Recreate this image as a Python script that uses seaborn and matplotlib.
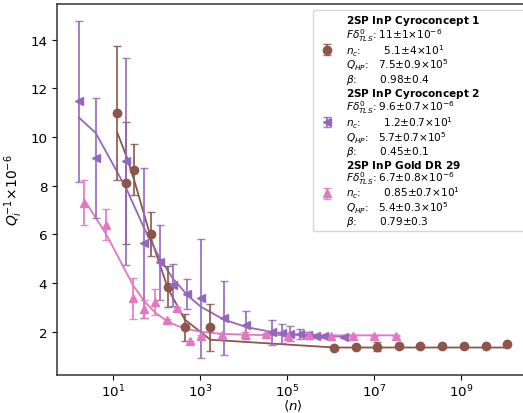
import numpy as np
import pandas as pd
import matplotlib
matplotlib.use("Agg")
import matplotlib.pyplot as plt
import seaborn as sns

# ---- data ----
# 2SP InP Cyroconcept 1 (brown)
n_c1 = [12.8, 20.7, 31.6, 77.6, 186, 452, 1760, 1.23e6, 3.85e6, 1.19e7, 3.76e7,
        1.17e8, 3.72e8, 1.19e9, 3.76e9, 1.17e10]
q_c1 = [10.99, 8.11, 8.66, 6.01, 3.85, 2.18, 2.18, 1.32, 1.36, 1.38, 1.41,
        1.43, 1.43, 1.40, 1.41, 1.48]
e_c1 = [2.74, 2.5, 1.05, 0.9, 0.85, 0.56, 0.97, 0.03, 0.05, 0.18, 0.1,
        0.04, 0.04, 0.04, 0.04, 0.04]
fit_c1 = [10.17, 9.21, 8.19, 5.78, 3.77, 2.50, 1.67, 1.35, 1.35, 1.35, 1.35,
          1.35, 1.35, 1.35, 1.35, 1.35]

# 2SP InP Cyroconcept 2 (purple)
n_c2 = [1.65, 4.07, 20.7, 52.5, 120, 243, 521, 1050, 3550, 1.17e4, 4.47e4,
        7.59e4, 1.17e5, 2.0e5, 3.02e5, 4.79e5, 7.08e5, 2.04e6]
q_c2 = [11.47, 9.14, 9.0, 5.63, 4.85, 3.92, 3.55, 3.37, 2.55, 2.27, 1.97,
        1.94, 1.92, 1.90, 1.86, 1.83, 1.81, 1.77]
e_c2 = [3.3, 2.48, 4.27, 3.08, 1.53, 0.85, 0.63, 2.45, 1.52, 0.57, 0.53,
        0.39, 0.3, 0.2, 0.14, 0.09, 0.05, 0.03]
fit_c2 = [10.81, 10.17, 7.87, 6.26, 5.02, 4.18, 3.50, 3.03, 2.50, 2.19, 1.99,
          1.94, 1.91, 1.88, 1.85, 1.84, 1.82, 1.80]

# 2SP InP Gold DR 29 (pink)
n_g = [2.19, 7.16, 29.3, 52.5, 92.5, 181, 307, 611, 1050, 3310, 1.07e4,
       3.24e4, 1.05e5, 3.24e5, 1.02e6, 3.24e6, 1.02e7, 3.24e7]
q_g = [7.31, 6.40, 3.37, 2.93, 3.23, 2.48, 2.96, 1.60, 1.83, 1.86, 1.92,
       1.90, 1.84, 1.86, 1.83, 1.84, 1.84, 1.84]
e_g = [0.91, 0.65, 0.84, 0.36, 0.53, 0.05, 0.05, 0.03, 0.05, 0.06, 0.05,
       0.04, 0.03, 0.03, 0.03, 0.03, 0.03, 0.03]
fit_g = [7.44, 5.99, 3.91, 3.26, 2.80, 2.43, 2.24, 2.08, 2.00, 1.91, 1.88,
         1.86, 1.86, 1.85, 1.85, 1.85, 1.85, 1.85]

x_ticks = [1e1, 1e3, 1e5, 1e7, 1e9]
y_ticks = [2, 4, 6, 8, 10, 12, 14]

labels = [
    "$\\bf{2SP\\ InP\\ Cyroconcept\\ 1}$\n"
    "$F\\delta^0_{TLS}$: 11±1×10$^{-6}$\n"
    "$n_c$:       5.1±4×10$^{1}$\n"
    "$Q_{HP}$:   7.5±0.9×10$^{5}$\n"
    "$\\beta$:       0.98±0.4",
    "$\\bf{2SP\\ InP\\ Cyroconcept\\ 2}$\n"
    "$F\\delta^0_{TLS}$: 9.6±0.7×10$^{-6}$\n"
    "$n_c$:       1.2±0.7×10$^{1}$\n"
    "$Q_{HP}$:   5.7±0.7×10$^{5}$\n"
    "$\\beta$:       0.45±0.1",
    "$\\bf{2SP\\ InP\\ Gold\\ DR\\ 29}$\n"
    "$F\\delta^0_{TLS}$: 6.7±0.8×10$^{-6}$\n"
    "$n_c$:       0.85±0.7×10$^{1}$\n"
    "$Q_{HP}$:   5.4±0.3×10$^{5}$\n"
    "$\\beta$:       0.79±0.3",
]

series = [
    (n_c1, q_c1, e_c1, fit_c1, "#8c564b", "o"),
    (n_c2, q_c2, e_c2, fit_c2, "#9467bd", "<"),
    (n_g, q_g, e_g, fit_g, "#e377c2", "^"),
]

W, H = 523, 414
fig = plt.figure(figsize=(W / 100, H / 100), dpi=100)
ax = fig.add_axes([57 / W, 38 / H, (528 - 57) / W, (376 - 5) / H])

handles = []
for (n, q, e, fit, col, mk), lab in zip(series, labels):
    df = pd.DataFrame({"n": n, "fit": fit})
    sns.lineplot(data=df, x="n", y="fit", color=col, lw=1.3, ax=ax,
                 legend=False, sort=False, zorder=2)
    h = ax.errorbar(n, q, yerr=e, fmt=mk, color=col, ms=6, elinewidth=1.4,
                    ecolor=matplotlib.colors.to_rgba(col, 0.85),
                    capsize=3, capthick=1.0, label=lab, zorder=3)
    handles.append(h)

ax.set_xscale("log")
ax.set_xlim(10 ** -0.28, 10 ** 10.54)
ax.set_xticks(x_ticks)
ax.set_ylim(0.22, 15.47)
ax.set_yticks(y_ticks)
ax.tick_params(labelsize=9.7)
ax.tick_params(axis="x", which="major", pad=2.2)
for s in ax.spines.values():
    s.set_color("0.2")
    s.set_linewidth(1.1)

ax.set_xlabel(r"$\langle n\rangle$", fontsize=9.6, labelpad=-1.4)
ax.set_ylabel(r"$Q_i^{-1}$×10$^{-6}$", fontsize=10, labelpad=4)

top = 1 - 11 / H
leg = ax.legend(handles=handles, labels=labels, loc="upper left", mode="expand",
                bbox_to_anchor=(313 / W, 0.3, (532 - 313) / W, top - 0.3),
                bbox_transform=fig.transFigure,
                borderaxespad=0, fontsize=7.6, labelspacing=0.0, handlelength=2.0,
                handletextpad=0.8, borderpad=0.3, frameon=True)
for t in leg.get_texts():
    t.set_linespacing(0.92)

fig.savefig("out.png", dpi=100)
